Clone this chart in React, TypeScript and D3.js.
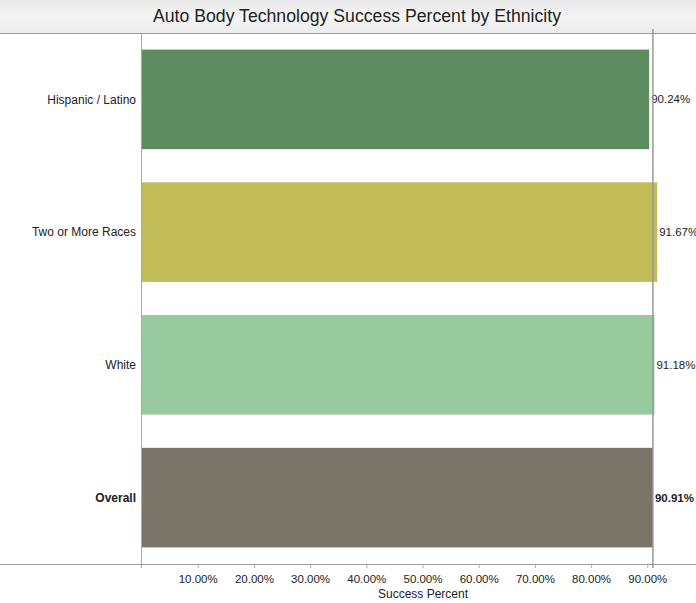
import React from "react";
import * as d3 from "d3";

const categories = ["Hispanic / Latino", "Two or More Races", "White", "Overall"];
const values = [90.24, 91.67, 91.18, 90.91];
const colors = ["#5d8c61", "#c1bc57", "#97ca9f", "#7b7469"];
const ticks = [10, 20, 30, 40, 50, 60, 70, 80, 90];
const referenceValue = 90.91;

const W = 696;
const H = 603;
const M = { left: 142, top: 33, bottom: 564 };

export default function App() {
  const x = d3.scaleLinear().domain([0, 100]).range([M.left, M.left + 562]);
  const y = d3
    .scaleBand<string>()
    .domain(categories)
    .range([M.top, M.bottom])
    .paddingInner(0.25)
    .paddingOuter(0.125);
  const font = "Arial, 'Liberation Sans', Helvetica, sans-serif";
  const fmt = (v: number) => v.toFixed(2) + "%";

  return (
    <svg
      width={W}
      height={H}
      style={{ position: "absolute", left: 0, top: 0, background: "#fff" }}
      fontFamily={font}
    >
      <defs>
        <linearGradient id="tg" x1="0" x2="0" y1="0" y2="1">
          <stop offset="0" stopColor="#e8e8e8" />
          <stop offset="0.5" stopColor="#f4f4f4" />
          <stop offset="1" stopColor="#ececec" />
        </linearGradient>
      </defs>
      <rect x={0} y={0} width={W} height={M.top} fill="url(#tg)" />
      <text x={357} y={22} textAnchor="middle" fontSize={17.5} fill="#222" textLength={408} lengthAdjust="spacingAndGlyphs">
        Auto Body Technology Success Percent by Ethnicity
      </text>
      <line x1={0} x2={W} y1={M.top + 0.5} y2={M.top + 0.5} stroke="#9a9a9a" />

      {categories.map((c, i) => (
        <g key={c}>
          <rect
            x={x(0)}
            y={y(c)!}
            width={x(values[i]) - x(0)}
            height={y.bandwidth()}
            fill={colors[i]}
          />
          <text
            x={136}
            y={y(c)! + y.bandwidth() / 2}
            dy="0.35em"
            textAnchor="end"
            fontSize={12}
            fontWeight={c === "Overall" ? "bold" : "normal"}
            fill="#222"
          >
            {c}
          </text>
          <text
            x={x(values[i]) + 2}
            y={y(c)! + y.bandwidth() / 2}
            dy="0.35em"
            fontSize={11.5}
            fontWeight={c === "Overall" ? "bold" : "normal"}
            fill="#222"
          >
            {fmt(values[i])}
          </text>
        </g>
      ))}

      <line
        x1={x(referenceValue)}
        x2={x(referenceValue)}
        y1={29}
        y2={M.bottom + 4}
        stroke="#999"
        strokeWidth={1.5}
      />
      <line x1={x(0) - 0.5} x2={x(0) - 0.5} y1={M.top} y2={M.bottom + 4} stroke="#aaa" />
      <line x1={0} x2={W} y1={M.bottom + 0.5} y2={M.bottom + 0.5} stroke="#9a9a9a" />

      {ticks.map((t) => (
        <g key={t}>
          <line x1={x(t)} x2={x(t)} y1={M.bottom} y2={M.bottom + 4} stroke="#aaa" />
          <text x={x(t)} y={M.bottom + 19} textAnchor="middle" fontSize={11.5} fill="#222">
            {t.toFixed(2) + "%"}
          </text>
        </g>
      ))}
      <text x={(x(0) + x(100)) / 2} y={M.bottom + 34} textAnchor="middle" fontSize={12} fill="#222">
        Success Percent
      </text>
    </svg>
  );
}
